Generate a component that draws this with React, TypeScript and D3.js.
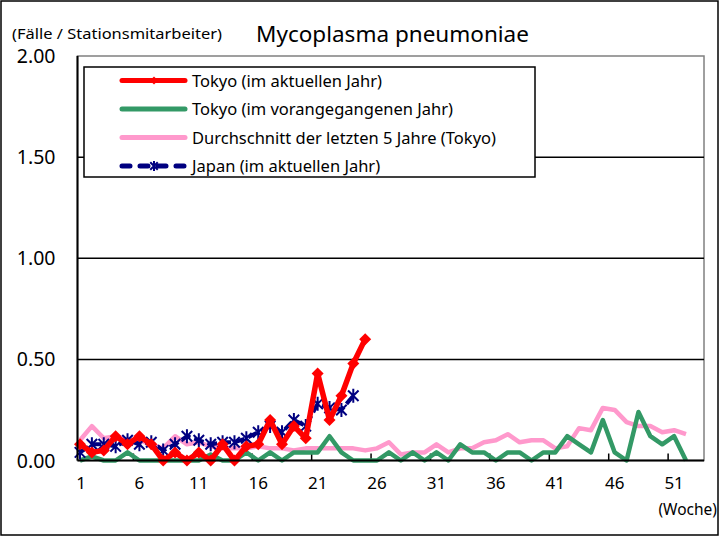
import React from "react";
import * as d3 from "d3";

const weeks: number[] = d3.range(1, 53);
const xTickLabels: number[] = [1, 6, 11, 16, 21, 26, 31, 36, 41, 46, 51];
const yTicks: number[] = [0, 0.5, 1.0, 1.5, 2.0];

const tokyoCurrent: number[] = [0.08, 0.04, 0.05, 0.12, 0.08, 0.12, 0.08, 0.0, 0.04, 0.0, 0.04, 0.0, 0.08, 0.0, 0.07, 0.08, 0.2, 0.08, 0.17, 0.11, 0.43, 0.2, 0.32, 0.48, 0.6];
const tokyoPrev: number[] = [0, 0.02, 0, 0, 0.04, 0, 0, 0, 0, 0, 0, 0.03, 0, 0, 0.04, 0, 0.04, 0, 0.04, 0.04, 0.04, 0.12, 0.04, 0, 0, 0, 0.04, 0, 0.04, 0, 0.04, 0, 0.08, 0.04, 0.04, 0, 0.04, 0.04, 0, 0.04, 0.04, 0.12, 0.08, 0.04, 0.2, 0.04, 0, 0.24, 0.12, 0.08, 0.12, 0];
const avg5: number[] = [0.1, 0.17, 0.11, 0.12, 0.1, 0.1, 0.08, 0.06, 0.12, 0.08, 0.09, 0.07, 0.06, 0.06, 0.06, 0.07, 0.06, 0.06, 0.05, 0.06, 0.06, 0.06, 0.06, 0.06, 0.05, 0.06, 0.09, 0.03, 0.04, 0.04, 0.08, 0.04, 0.06, 0.06, 0.09, 0.1, 0.13, 0.09, 0.1, 0.1, 0.06, 0.07, 0.16, 0.15, 0.26, 0.25, 0.19, 0.17, 0.17, 0.14, 0.15, 0.13];
const japanCurrent: number[] = [0.04, 0.08, 0.08, 0.07, 0.1, 0.08, 0.09, 0.05, 0.08, 0.12, 0.1, 0.08, 0.09, 0.09, 0.11, 0.14, 0.17, 0.14, 0.2, 0.17, 0.28, 0.26, 0.25, 0.32];

const legendLabels: string[] = [
  "Tokyo (im aktuellen Jahr)",
  "Tokyo (im vorangegangenen Jahr)",
  "Durchschnitt der letzten 5 Jahre (Tokyo)",
  "Japan (im aktuellen Jahr)",
];

const RED = "#FF0000";
const GREEN = "#339966";
const PINK = "#FF99CC";
const NAVY = "#000080";
const FONT = "'Noto Sans', 'DejaVu Sans', sans-serif";

const plotLeft = 77.5;
const plotRight = 704;
const plotTop = 56;
const plotBottom = 460.5;

const x = d3.scaleLinear().domain([1, 52]).range([80, 686]);
const y = d3.scaleLinear().domain([0, 2]).range([plotBottom, plotTop]);

const line = d3
  .line<number>()
  .x((_, i) => x(weeks[i]))
  .y((d) => y(d));

function diamond(cx: number, cy: number, r: number) {
  return `M${cx},${cy - r}L${cx + r},${cy}L${cx},${cy + r}L${cx - r},${cy}Z`;
}
function star(cx: number, cy: number, r: number) {
  const a = r * 0.75;
  return `M${cx - a},${cy - a}L${cx + a},${cy + a}M${cx - a},${cy + a}L${cx + a},${cy - a}M${cx},${cy - r}L${cx},${cy + r}`;
}

export default function App() {
  const legendRowY = [80.5, 109, 137.5, 166];
  return (
    <svg
      width={720}
      height={537}
      style={{ position: "absolute", left: 0, top: 0, background: "#fff" }}
      fontFamily={FONT}
    >
      <rect x={1} y={1} width={717} height={534} fill="#fff" stroke="#000" strokeWidth={1.5} />

      {/* titles */}
      <text x={12} y={38.5} fontSize={14.5} textLength={210} lengthAdjust="spacingAndGlyphs" fill="#000">(Fälle / Stationsmitarbeiter)</text>
      <text x={392.5} y={42} fontSize={22.5} textAnchor="middle" fill="#000">Mycoplasma pneumoniae</text>

      {/* plot border */}
      <rect x={plotLeft} y={plotTop} width={plotRight - plotLeft} height={plotBottom - plotTop} fill="none" stroke="#808080" strokeWidth={1.5} />

      {/* gridlines */}
      {yTicks.filter((t) => t > 0 && t < 2).map((t) => (
        <line key={t} x1={plotLeft} x2={plotRight} y1={y(t)} y2={y(t)} stroke="#000" strokeWidth={1.5} />
      ))}

      {/* y tick labels */}
      {yTicks.map((t) => (
        <text key={t} x={55.5} y={y(t) + 7} fontSize={19.5} textAnchor="end" fill="#000">
          {t.toFixed(2)}
        </text>
      ))}

      {/* x tick marks */}
      {xTickLabels.slice(1).map((w) => (
        <line key={w} x1={x(w) - 6} x2={x(w) - 6} y1={plotBottom} y2={plotBottom - 7} stroke="#000" strokeWidth={1.5} />
      ))}
      {/* x tick labels */}
      {xTickLabels.map((w) => (
        <text key={w} x={x(w) + (w > 1 ? 0 : 1)} y={489} fontSize={17} textAnchor="middle" fill="#000">
          {w}
        </text>
      ))}
      <text x={717} y={515} fontSize={15.5} textAnchor="end" fill="#000">(Woche)</text>

      {/* series */}
      <path d={line(avg5) || ""} fill="none" stroke={PINK} strokeWidth={4.5} strokeLinejoin="round" />
      <path d={line(tokyoPrev) || ""} fill="none" stroke={GREEN} strokeWidth={4.5} strokeLinejoin="round" />
      <path d={line(japanCurrent) || ""} fill="none" stroke={NAVY} strokeWidth={4} strokeDasharray="10 4" />
      {japanCurrent.map((v, i) => (
        <path key={i} d={star(x(weeks[i]), y(v), 7)} stroke={NAVY} strokeWidth={2} fill="none" />
      ))}
      <path d={line(tokyoCurrent) || ""} fill="none" stroke={RED} strokeWidth={5.5} strokeLinejoin="round" />
      {tokyoCurrent.map((v, i) => (
        <path key={i} d={diamond(x(weeks[i]), y(v), 6)} fill={RED} />
      ))}

      {/* axes */}
      <line x1={plotLeft} x2={plotLeft} y1={plotTop} y2={plotBottom} stroke="#000" strokeWidth={2} />
      <line x1={plotLeft} x2={plotRight} y1={plotBottom} y2={plotBottom} stroke="#000" strokeWidth={2} />

      {/* legend */}
      <rect x={84} y={67} width={451} height={110} fill="#fff" stroke="#000" strokeWidth={1.5} />
      {legendLabels.map((lab, i) => {
        const ly = legendRowY[i];
        return (
          <g key={lab}>
            {i === 0 && (
              <>
                <line x1={122} x2={185} y1={ly} y2={ly} stroke={RED} strokeWidth={5} strokeLinecap="round" />
                <path d={diamond(154, ly, 4)} fill={RED} />
              </>
            )}
            {i === 1 && <line x1={122} x2={185} y1={ly} y2={ly} stroke={GREEN} strokeWidth={5} strokeLinecap="round" />}
            {i === 2 && <line x1={122} x2={185} y1={ly} y2={ly} stroke={PINK} strokeWidth={5} strokeLinecap="round" />}
            {i === 3 && (
              <>
                <line x1={122} x2={185} y1={ly} y2={ly} stroke={NAVY} strokeWidth={5} strokeLinecap="round" strokeDasharray="8 10" />
                <path d={star(154, ly, 5)} stroke={NAVY} strokeWidth={2} fill="none" />
              </>
            )}
            <text x={192} y={ly + 6} fontSize={16.5} fill="#000">{lab}</text>
          </g>
        );
      })}
    </svg>
  );
}
